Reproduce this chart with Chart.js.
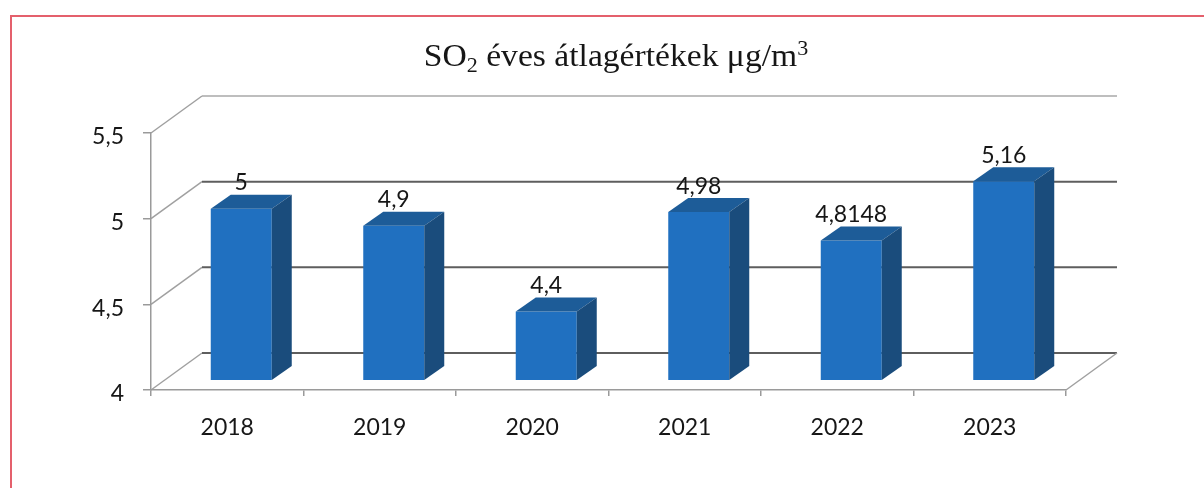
<!DOCTYPE html>
<html>
<head>
  <title>SO2 éves átlagértékek</title>
  <script src="https://cdn.jsdelivr.net/npm/chart.js"></script>
  <style>
    body { margin: 0; background: #fff; }
  </style>
</head>
<body>
  <canvas id="so2Chart" width="1204" height="488"></canvas>

  <script>
    const years = ['2018', '2019', '2020', '2021', '2022', '2023'];
    const so2Values = [5, 4.9, 4.4, 4.98, 4.8148, 5.16];
    const yTicks = [4, 4.5, 5, 5.5];

    // fake 3d: back wall offset, bars sit a bit behind the front axis
    const depth = { x: 51, y: -37 };
    const barShift = { x: 14, y: -10 };
    const barDepth = { x: 20, y: -14 };

    const comma = v => String(v).replace('.', ',');
    const labelFont = '23px Lato';
    const textColor = '#161616';

    const frame3d = {
      id: 'frame3d',
      beforeDraw(chart) {
        const { ctx, chartArea: a, scales: { y } } = chart;
        ctx.save();
        ctx.strokeStyle = '#e4606c';
        ctx.lineWidth = 2;
        ctx.strokeRect(11, 16, 1400, 700);

        yTicks.forEach(v => {
          const py = y.getPixelForValue(v);
          ctx.strokeStyle = '#a0a0a0';
          ctx.lineWidth = 1.5;
          ctx.beginPath();
          ctx.moveTo(a.left, py);
          ctx.lineTo(a.left + depth.x, py + depth.y);
          ctx.stroke();
          ctx.strokeStyle = v === 5.5 ? '#a8a8a8' : '#5e5e5e';
          ctx.lineWidth = v === 5.5 ? 1.5 : 2;
          ctx.beginPath();
          ctx.moveTo(a.left + depth.x, py + depth.y);
          ctx.lineTo(a.right + depth.x, py + depth.y);
          ctx.stroke();
        });
        // floor right edge
        ctx.strokeStyle = '#a0a0a0';
        ctx.lineWidth = 1.5;
        ctx.beginPath();
        ctx.moveTo(a.right, a.bottom);
        ctx.lineTo(a.right + depth.x, a.bottom + depth.y);
        ctx.stroke();
        ctx.restore();
      },
      beforeDatasetsDraw(chart) {
        chart.ctx.save();
        chart.ctx.translate(barShift.x, barShift.y);
      },
      afterDatasetsDraw(chart) {
        const ctx = chart.ctx;
        const base = chart.scales.y.getPixelForValue(yTicks[0]);
        chart.getDatasetMeta(0).data.forEach(bar => {
          const { x, y, width } = bar.getProps(['x', 'y', 'width'], true);
          const l = x - width / 2, r = x + width / 2;
          ctx.fillStyle = '#1d5c98';
          ctx.beginPath();
          ctx.moveTo(l, y);
          ctx.lineTo(l + barDepth.x, y + barDepth.y);
          ctx.lineTo(r + barDepth.x, y + barDepth.y);
          ctx.lineTo(r, y);
          ctx.closePath();
          ctx.fill();
          ctx.fillStyle = '#1a4c7c';
          ctx.beginPath();
          ctx.moveTo(r, y);
          ctx.lineTo(r + barDepth.x, y + barDepth.y);
          ctx.lineTo(r + barDepth.x, base + barDepth.y);
          ctx.lineTo(r, base);
          ctx.closePath();
          ctx.fill();
        });
        ctx.restore();

        // value labels
        ctx.save();
        ctx.font = labelFont;
        ctx.fillStyle = textColor;
        ctx.textAlign = 'center';
        ctx.textBaseline = 'middle';
        chart.getDatasetMeta(0).data.forEach((bar, i) => {
          ctx.fillText(comma(so2Values[i]), bar.x + barShift.x, bar.y + barShift.y - 26);
        });
        ctx.restore();
      },
      afterDraw(chart) {
        const ctx = chart.ctx;
        const parts = [
          { t: 'SO', size: 32, dy: 0 },
          { t: '2', size: 21, dy: 6 },
          { t: ' éves átlagértékek μg/m', size: 32, dy: 0 },
          { t: '3', size: 21, dy: -11 }
        ];
        const stretch = 1.05;
        ctx.save();
        ctx.fillStyle = textColor;
        ctx.textBaseline = 'alphabetic';
        let total = 0;
        parts.forEach(p => {
          ctx.font = p.size + 'px "Liberation Serif"';
          p.w = ctx.measureText(p.t).width;
          total += p.w;
        });
        ctx.translate(616 - total * stretch / 2, 66);
        ctx.scale(stretch, 1);
        let x = 0;
        parts.forEach(p => {
          ctx.font = p.size + 'px "Liberation Serif"';
          ctx.fillText(p.t, x, p.dy);
          x += p.w;
        });
        ctx.restore();
      }
    };

    new Chart(document.getElementById('so2Chart'), {
      type: 'bar',
      data: {
        labels: years,
        datasets: [{
          data: so2Values,
          backgroundColor: '#2070c0',
          barPercentage: 0.4,
          categoryPercentage: 1
        }]
      },
      options: {
        responsive: false,
        animation: false,
        layout: { padding: { top: 133, right: 138, left: 0, bottom: 0 } },
        plugins: { legend: { display: false }, tooltip: { enabled: false } },
        scales: {
          x: {
            afterFit: s => { s.height = 98; },
            grid: { offset: true, drawOnChartArea: false, tickLength: 6, color: '#9a9a9a', lineWidth: 1.5 },
            border: { color: '#9a9a9a', width: 1.5 },
            ticks: { font: { family: 'Lato', size: 23 }, color: textColor, padding: 18 }
          },
          y: {
            min: 4,
            max: 5.5,
            afterFit: s => { s.width = 151; },
            grid: { drawOnChartArea: false, tickLength: 8, color: '#9a9a9a', lineWidth: 1.5 },
            border: { color: '#9a9a9a', width: 1.5 },
            ticks: { stepSize: 0.5, callback: v => comma(v), font: { family: 'Lato', size: 23 }, color: textColor, padding: 19, labelOffset: 4 }
          }
        }
      },
      plugins: [frame3d]
    });
  </script>
</body>
</html>
